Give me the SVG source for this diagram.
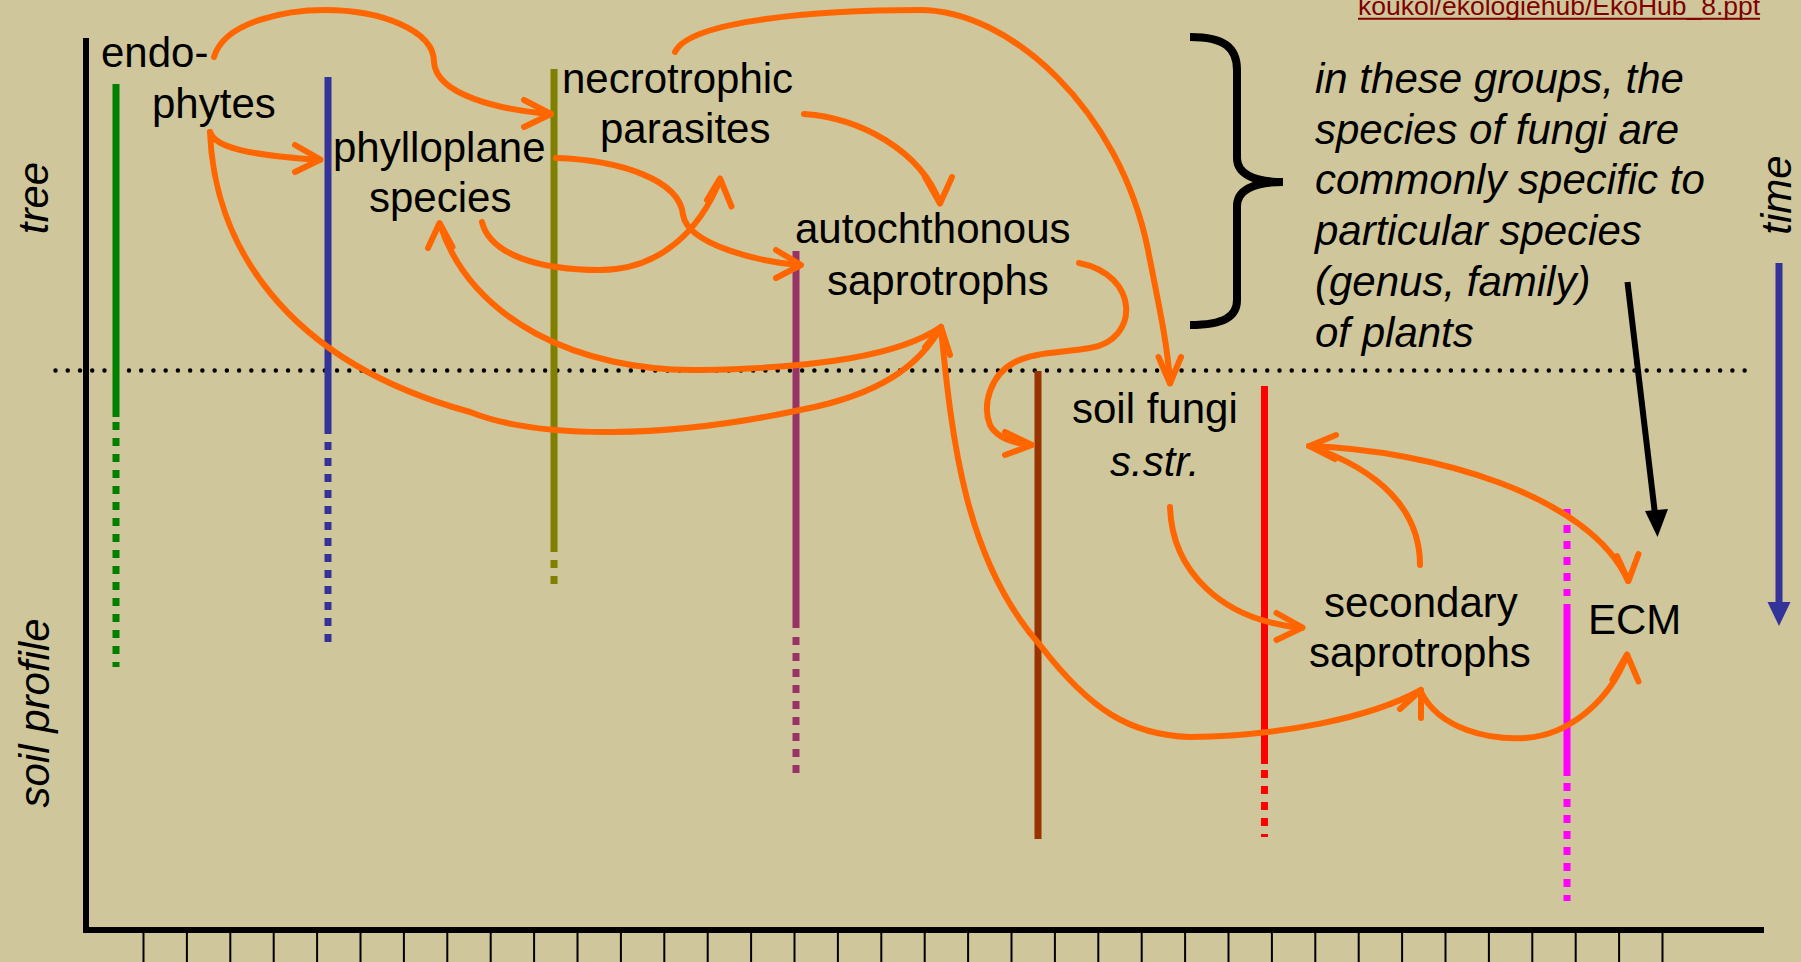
<svg xmlns="http://www.w3.org/2000/svg" width="1801" height="962" viewBox="0 0 1801 962">
<style>
.lbl{font-family:"Liberation Sans",Arial,sans-serif;font-size:42px;fill:#000}
.it{font-style:italic}
.c{stroke:#FF6600;stroke-width:6;fill:none;stroke-linecap:round;stroke-linejoin:round}
.bar{stroke-width:7;fill:none}
.dash{stroke-dasharray:8 8}
.tick{stroke:#000;stroke-width:2}
</style>
<rect width="1801" height="962" fill="#CFC69B"/>
<g id="axes">
<line x1="86" y1="38" x2="86" y2="933" stroke="#000" stroke-width="6"/>
<line x1="83" y1="930" x2="1764" y2="930" stroke="#000" stroke-width="6"/>
<path class="tick" d="M143.5,932V962M186.9,932V962M230.3,932V962M273.7,932V962M317.1,932V962M360.5,932V962M403.9,932V962M447.3,932V962M490.7,932V962M534.1,932V962M577.5,932V962M620.9,932V962M664.3,932V962M707.7,932V962M751.1,932V962M794.5,932V962M837.9,932V962M881.3,932V962M924.7,932V962M968.1,932V962M1011.5,932V962M1054.9,932V962M1098.3,932V962M1141.7,932V962M1185.1,932V962M1228.5,932V962M1271.9,932V962M1315.3,932V962M1358.7,932V962M1402.1,932V962M1445.5,932V962M1488.9,932V962M1532.3,932V962M1575.7,932V962M1619.1,932V962M1662.5,932V962"/>
<line x1="55.5" y1="370.5" x2="1748" y2="370.5" stroke="#000" stroke-width="4.5" stroke-linecap="round" stroke-dasharray="0 12.24"/>
<text class="lbl it" transform="translate(48,198) rotate(-90)" text-anchor="middle" font-size="41">tree</text>
<text class="lbl it" transform="translate(49,713) rotate(-90)" text-anchor="middle">soil profile</text>
</g>
<g id="time">
<line x1="1779" y1="263" x2="1779" y2="606" stroke="#333399" stroke-width="7"/>
<polygon points="1767.5,602 1790.5,602 1779,626" fill="#333399"/>
<text class="lbl it" transform="translate(1791,195) rotate(-90)" text-anchor="middle" font-size="48">time</text>
</g>
<g id="source">
<text x="1358" y="15" font-family="'Liberation Sans',Arial,sans-serif" font-size="26.5" fill="#800000">koukol/ekologiehub/EkoHub_8.ppt</text>
<line x1="1358" y1="18.7" x2="1760" y2="18.7" stroke="#800000" stroke-width="2"/>
</g>
<g id="endophytes">
<line class="bar" x1="116" y1="84" x2="116" y2="417" stroke="#008000"/>
<line class="bar dash" x1="116" y1="422" x2="116" y2="667" stroke="#008000"/>
<text class="lbl" x="101" y="67">endo-</text>
<text class="lbl" x="152" y="118">phytes</text>
</g>
<g id="phylloplane">
<line class="bar" x1="328" y1="77" x2="328" y2="434" stroke="#333399"/>
<line class="bar dash" x1="328" y1="442" x2="328" y2="642" stroke="#333399"/>
<text class="lbl" x="333" y="162">phylloplane</text>
<text class="lbl" x="369" y="212">species</text>
</g>
<g id="necrotrophic">
<line class="bar" x1="554" y1="69" x2="554" y2="552" stroke="#808000"/>
<line class="bar dash" x1="554" y1="560" x2="554" y2="584" stroke="#808000"/>
<text class="lbl" x="562" y="93">necrotrophic</text>
<text class="lbl" x="600" y="143">parasites</text>
</g>
<g id="autochthonous">
<line class="bar" x1="796" y1="251" x2="796" y2="628" stroke="#993366"/>
<line class="bar dash" x1="796" y1="637" x2="796" y2="774" stroke="#993366"/>
<text class="lbl" x="795" y="243">autochthonous</text>
<text class="lbl" x="827" y="295">saprotrophs</text>
</g>
<g id="soilfungi">
<line class="bar" x1="1038" y1="371" x2="1038" y2="839" stroke="#993300"/>
<text class="lbl" x="1072" y="423">soil fungi</text>
<text class="lbl it" x="1110" y="476">s.str.</text>
</g>
<g id="secondary">
<line class="bar" x1="1264.5" y1="386" x2="1264.5" y2="764" stroke="#FF0000"/>
<line class="bar dash" x1="1264.5" y1="770" x2="1264.5" y2="837" stroke="#FF0000"/>
<text class="lbl" x="1324" y="617">secondary</text>
<text class="lbl" x="1309" y="667">saprotrophs</text>
</g>
<g id="ecm">
<line class="bar dash" x1="1567" y1="509" x2="1567" y2="596" stroke="#FF00FF"/>
<line class="bar" x1="1567" y1="604" x2="1567" y2="776" stroke="#FF00FF"/>
<line class="bar dash" x1="1567" y1="783" x2="1567" y2="901" stroke="#FF00FF"/>
<text class="lbl" x="1588" y="634">ECM</text>
</g>
<g id="note">
<path d="M1190,37 C1225,37 1237,48 1237,70 L1237,158 C1237,173 1252,182 1283,182 C1252,182 1237,191 1237,206 L1237,300 C1237,316 1225,325 1190,325" stroke="#000" stroke-width="8" fill="none"/>
<text class="lbl it">
<tspan x="1315" y="93">in these groups, the</tspan>
<tspan x="1315" y="143.5">species of fungi are</tspan>
<tspan x="1315" y="194">commonly specific to</tspan>
<tspan x="1315" y="245">particular species</tspan>
<tspan x="1315" y="296">(genus, family)</tspan>
<tspan x="1315" y="347">of plants</tspan>
</text>
<line x1="1627.5" y1="282" x2="1655" y2="514" stroke="#000" stroke-width="6"/>
<polygon points="1645,511 1668,509 1657.5,537" fill="#000"/>
</g>
<g id="connectors">
<path class="c" d="M214,57 C225,20 290,10 325,10 C380,10 434,30 434,62 C436,95 500,110 551,114"/>
<polyline class="c" points="524,100 551,114 524,127"/>
<path class="c" d="M210,132 C215,148 250,155 320,160"/>
<polyline class="c" points="295,145 320.5,159.5 295,172"/>
<path class="c" d="M210,132 C214,240 280,360 470,412 C540,440 670,438 800,410 C880,395 920,365 941,327"/>
<polyline class="c" points="925,347 941,327 950,355"/>
<path class="c" d="M941,327 C900,355 820,368 700,370 C580,372 470,320 440,224"/>
<polyline class="c" points="428,248 439.5,223 452.5,247"/>
<path class="c" d="M556,158 C620,160 680,180 683,215 C688,245 760,262 800,265"/>
<polyline class="c" points="776,250 801,265 776,278"/>
<path class="c" d="M482,222 C490,255 540,270 600,270 C660,270 700,230 720,180"/>
<polyline class="c" points="707,200 720,178.5 731.5,206.5"/>
<path class="c" d="M804,114 C860,118 920,150 940,203"/>
<polyline class="c" points="925,177 940,203.5 952,177"/>
<path class="c" d="M675,52 C690,20 820,10 920,10 C1010,10 1120,110 1148,250 C1162,320 1168,350 1170,383"/>
<polyline class="c" points="1158.5,357 1170,383.5 1181,357"/>
<path class="c" d="M1079,263 C1140,275 1140,340 1090,348 C1060,353 1035,352 1015,362 C990,375 982,405 990,425 C997,438 1012,443 1031,445"/>
<polyline class="c" points="1005,432 1032,445 1005,455"/>
<path class="c" d="M941,328 C952,440 965,560 1040,645 C1090,710 1130,735 1190,737 C1280,736 1370,718 1421,690"/>
<polyline class="c" points="1400,709 1421,690 1421,718"/>
<path class="c" d="M1170,507 C1172,570 1220,620 1302,628"/>
<polyline class="c" points="1276.5,613 1302.5,627.5 1276.5,640"/>
<path class="c" d="M1420,565 C1420,510 1380,470 1309,446"/>
<path class="c" d="M1309,446 C1430,450 1590,495 1628,581"/>
<polyline class="c" points="1336,435 1309.5,446 1335,459"/>
<polyline class="c" points="1617,556 1628.5,581 1638.5,554"/>
<path class="c" d="M1421,692 C1440,730 1490,740 1525,738 C1570,735 1610,700 1627,655"/>
<polyline class="c" points="1612.5,679.5 1627,654.5 1638.5,681.5"/>
</g>
</svg>
